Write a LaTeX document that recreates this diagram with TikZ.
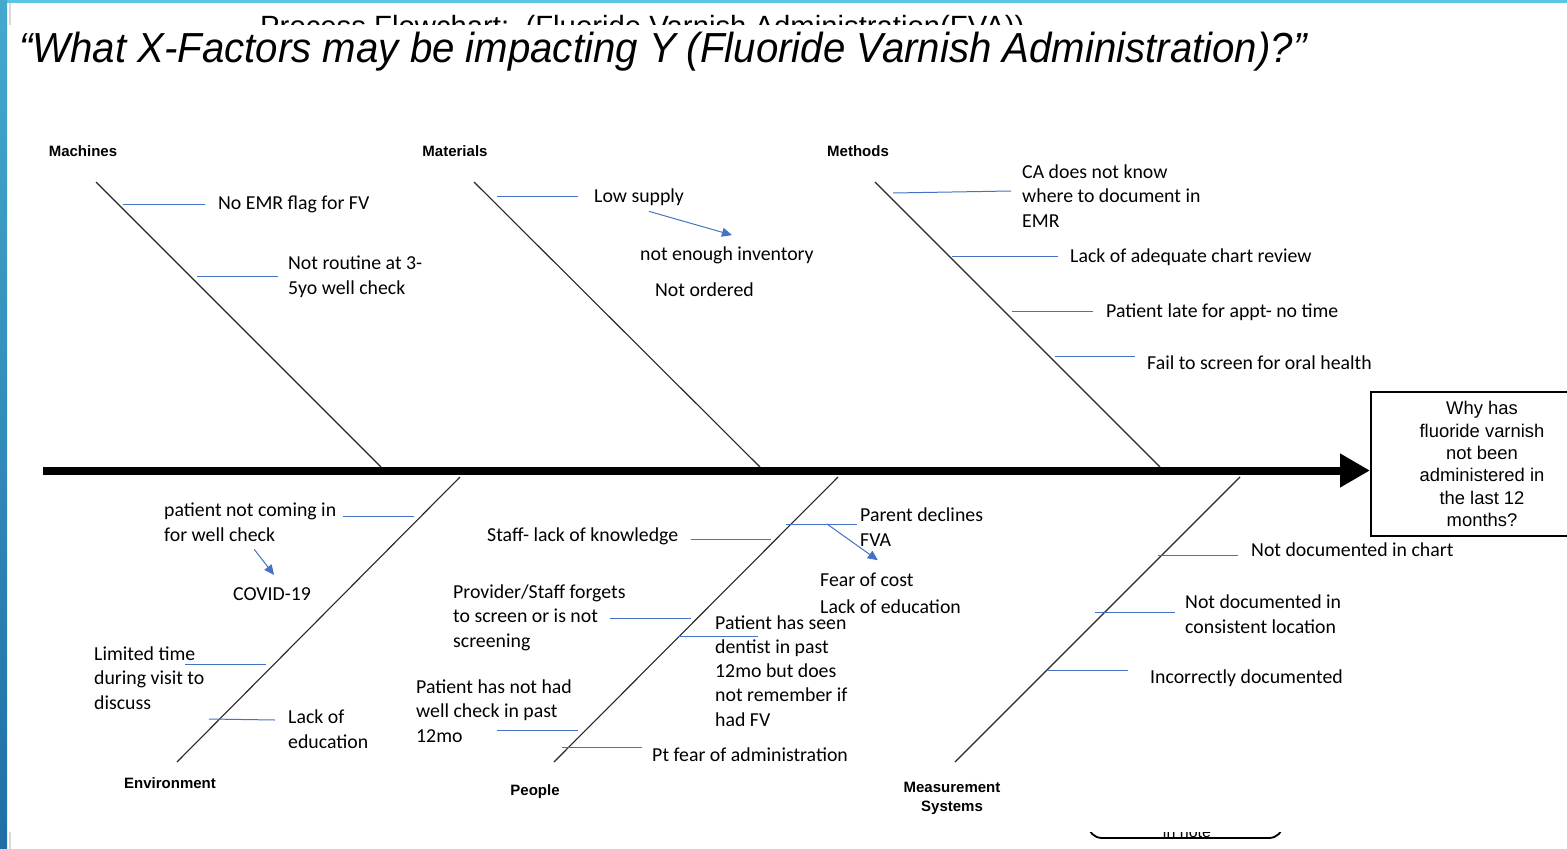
\documentclass[tikz,border=0pt]{standalone}
\usepackage{fontspec}
\setmainfont{Carlito}
\newfontfamily\arialfont{Liberation Sans}
\newfontfamily\arialnarrow[FakeStretch=0.957]{Liberation Sans}
\usetikzlibrary{arrows.meta}

\definecolor{tickblue}{HTML}{4472C4}
\definecolor{bandblue}{HTML}{5BC4E1}
\definecolor{bartop}{HTML}{45A9CE}
\definecolor{barbottom}{HTML}{1F6FA5}

\tikzset{
  cause/.style={anchor=base west,inner sep=0pt,align=left,font=\fontsize{19.8}{24.2}\selectfont},
  catlabel/.style={inner sep=0pt,align=center,font=\arialfont\bfseries\fontsize{15}{19}\selectfont},
  bone/.style={draw=black!85,line width=1.1pt},
  tick/.style={draw=tickblue,line width=1pt},
  link/.style={draw=tickblue,line width=1pt,-{Triangle[length=10pt,width=9pt]}},
  spine/.style={draw=black,line width=8pt,-{Triangle[length=30pt,width=32pt]}},
  effectbox/.style={draw,line width=2pt,minimum width=222pt,minimum height=144pt,align=center,
    font=\arialfont\fontsize{18.4}{22.3}\selectfont},
}

\begin{document}
\begin{tikzpicture}[x=1pt,y=-1pt]
\useasboundingbox (0,0) rectangle (1567,849);
\fill[white] (0,0) rectangle (1567,849);

% slide underneath
\node[anchor=base west,inner sep=0pt,font=\arialfont\fontsize{29.3}{34}\selectfont] (backtitle) at (260,36)
  {Process Flowchart:\ \ (Fluoride Varnish Administration(FVA))};
\node[draw,rounded corners=14pt,line width=1.8pt,minimum width=195pt,minimum height=80pt] (notebox) at (1185.5,798) {};
\node[anchor=base,inner sep=0pt,font=\arialfont\fontsize{16}{19}\selectfont] (notetext) at (1187,837) {in note};
\draw[black!15,line width=1.5pt] (10,3) -- (10,849);
\fill[white] (7,25) rectangle (1567,832);

\node[anchor=base west,inner sep=0pt,font=\arialnarrow\itshape\fontsize{42}{50}\selectfont] (title) at (19,62)
  {“What X-Factors may be impacting Y (Fluoride Varnish Administration)?”};

% effect and spine
\node[effectbox] (effect) at (1482,464) {Why has\\fluoride varnish\\not been\\administered in\\the last 12\\months?};
\coordinate (tail) at (43,470.5);
\draw[spine] (tail) -- (tail -| effect.west);

% bones
\coordinate (machtop) at (96,182);     \coordinate (machfoot) at (381,467);
\coordinate (mattop) at (474,182);     \coordinate (matfoot) at (760,467);
\coordinate (methtop) at (875,182);    \coordinate (methfoot) at (1160,467);
\coordinate (envhead) at (460,477);    \coordinate (envfoot) at (177,762);
\coordinate (pplhead) at (838,477);    \coordinate (pplfoot) at (554,762);
\coordinate (meashead) at (1240,477);  \coordinate (measfoot) at (955,762);
\draw[bone] (machtop) -- (machfoot);
\draw[bone] (mattop) -- (matfoot);
\draw[bone] (methtop) -- (methfoot);
\draw[bone] (envhead) -- (envfoot);
\draw[bone] (pplhead) -- (pplfoot);
\draw[bone] (meashead) -- (measfoot);

\node[catlabel] (machines) at (83,151) {Machines};
\node[catlabel] (materials) at (455,151) {Materials};
\node[catlabel] (methods) at (858,151) {Methods};
\node[catlabel] (environment) at (170,783) {Environment};
\node[catlabel] (people) at (535,792) {People};
\node[catlabel] (measurement) at (952,798) {Measurement\\Systems};

% sub-causes
\foreach \xa/\xb/\ya/\yb in {123/205/204/204, 197/278/276/276, 497/578/196/196,
    893/1011/193/191, 952/1058/256/256, 1012/1093/311/311, 1055/1135/356/356,
    343/414/516/516, 185/266/664/664, 209/275/719/720,
    691/771/539/539, 610/691/618/618, 678/758/636/636, 497/578/730/730, 562/642/747/747, 786/857/524/524,
    1158/1238/555/555, 1095/1175/612/612, 1048/1128/670/670}
  \draw[tick] (\xa,\ya) -- (\xb,\yb);

\node[cause] (noemr) at (218,209) {No EMR flag for FV};
\node[cause] (notroutine) at (288,294) {Not routine at 3-\\5yo well check};

\node[cause] (lowsupply) at (594,202) {Low supply};
\node[cause] (inventory) at (640,260) {not enough inventory};
\node[cause] (notordered) at (655,296) {Not ordered};
\draw[link] ([shift={(10,6)}]lowsupply.south) -- ([shift={(5,-11)}]inventory.north);

\node[cause] (cadoes) at (1022,227) {CA does not know\\where to document in\\EMR};
\node[cause] (chartreview) at (1070,262) {Lack of adequate chart review};
\node[cause] (latepatient) at (1106,317) {Patient late for appt- no time};
\node[cause] (screenoral) at (1147,369) {Fail to screen for oral health};

\node[cause] (notcoming) at (164,541) {patient not coming in\\for well check};
\node[cause] (covid) at (233,600) {COVID-19};
\draw[link] ([shift={(4,8)}]notcoming.south) -- ([shift={(2,-12)}]covid.north);
\node[cause] (limitedtime) at (94,709) {Limited time\\during visit to\\discuss};
\node[cause] (envlack) at (288,748) {Lack of\\education};

\node[cause] (stafflack) at (487,541) {Staff- lack of knowledge};
\node[cause] (forgets) at (453,647) {Provider/Staff forgets\\to screen or is not\\screening};
\node[cause] (notwellcheck) at (416,742) {Patient has not had\\well check in past\\12mo};
\node[cause] (ptfear) at (652,761) {Pt fear of administration};
\node[cause] (seendentist) at (715,726) {Patient has seen\\dentist in past\\12mo but does\\not remember if\\had FV};
\node[cause] (parentdecl) at (860,546) {Parent declines\\FVA};
\node[cause] (fearcost) at (820,586) {Fear of cost};
\node[cause] (peoplelack) at (820,613) {Lack of education};
\draw[link] ([shift={(-33,-22)}]parentdecl.base west) -- ([shift={(11,-12)}]fearcost.north);

\node[cause] (notchart) at (1251,556) {Not documented in chart};
\node[cause] (notconsistent) at (1185,633) {Not documented in\\consistent location};
\node[cause] (incorrect) at (1150,683) {Incorrectly documented};

% slide frame
\fill[bandblue] (0,0) rectangle (1567,3);
\shade[top color=bartop,bottom color=barbottom] (0,0) rectangle (7,849);
\end{tikzpicture}
\end{document}
